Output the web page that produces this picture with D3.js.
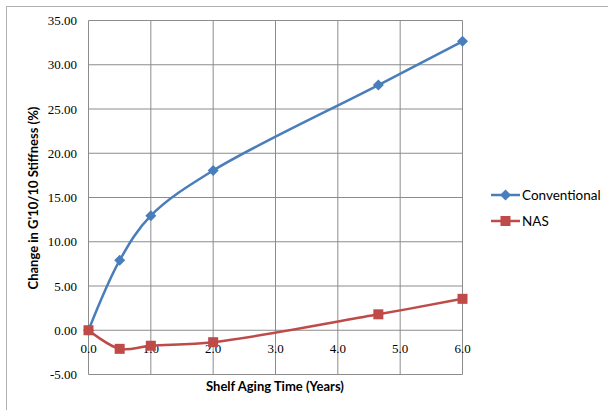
<!DOCTYPE html>
<html><head><meta charset="utf-8">
<script src="https://cdn.jsdelivr.net/npm/d3@7"></script>
<style>body{margin:0;background:#fff}svg{display:block}</style>
</head><body>
<script>
const years = [0, 0.5, 1.0, 2.0, 4.65, 6.0];
const conventional = [0, 7.9, 12.95, 18.05, 27.7, 32.65];
const nas = [0, -2.1, -1.75, -1.35, 1.8, 3.55];
const xTicks = [0, 1, 2, 3, 4, 5, 6];
const yTicks = [-5, 0, 5, 10, 15, 20, 25, 30, 35];
const seriesNames = ["Conventional", "NAS"];

const W = 608, H = 410;
const svg = d3.select("body").append("svg").attr("width", W).attr("height", H);

svg.append("rect").attr("x", 6.5).attr("y", 6.5).attr("width", 620).attr("height", 420)
  .attr("fill", "#fff").attr("stroke", "#b0b0b0").attr("stroke-width", 1);

const x = d3.scaleLinear().domain([0, 6]).range([88.5, 462.5]);
const y = d3.scaleLinear().domain([-5, 35]).range([374.5, 20.5]);

const diamond = "M0,-5.5L5.5,0L0,5.5L-5.5,0Z";

// gridlines
svg.append("g").selectAll("line.h").data(yTicks).join("line")
  .attr("x1", x(0)).attr("x2", x(6)).attr("y1", d => y(d)).attr("y2", d => y(d))
  .attr("stroke", "#8c8c8c").attr("stroke-width", 1);
svg.append("g").selectAll("line.v").data(xTicks).join("line")
  .attr("x1", d => x(d)).attr("x2", d => x(d)).attr("y1", y(35)).attr("y2", y(-5))
  .attr("stroke", "#8c8c8c").attr("stroke-width", 1);

// y tick labels
svg.append("g").selectAll("text").data(yTicks).join("text")
  .attr("x", 77).attr("y", d => y(d)).attr("dy", "0.35em")
  .attr("text-anchor", "end").attr("font-family", "Liberation Serif, serif")
  .attr("font-size", 13).attr("fill", "#000").text(d => d.toFixed(2));

// x tick labels (at zero line)
svg.append("g").selectAll("text").data(xTicks).join("text")
  .attr("x", d => x(d)).attr("y", y(0) + 23).attr("text-anchor", "middle")
  .attr("font-family", "Liberation Serif, serif").attr("font-size", 13)
  .attr("fill", "#000").text(d => d.toFixed(1));

// axis titles
svg.append("text").attr("x", 275).attr("y", 391).attr("text-anchor", "middle")
  .attr("font-family", "Lato, sans-serif").attr("font-weight", "bold").attr("font-size", 13)
  .text("Shelf Aging Time (Years)");
svg.append("text").attr("transform", "translate(38,198) rotate(-90)").attr("text-anchor", "middle")
  .attr("font-family", "Lato, sans-serif").attr("font-weight", "bold").attr("font-size", 13)
  .text("Change in G'10/10 Stiffness (%)");

const colors = ["#4A7EBB", "#BE4B48"];
const data = [conventional, nas];
const line = d3.line().x(d => x(d[0])).y(d => y(d[1])).curve(d3.curveCatmullRom.alpha(0.5));

data.forEach((vals, i) => {
  const pts = years.map((yr, j) => [yr, vals[j]]);
  svg.append("path").datum(pts).attr("d", line).attr("fill", "none")
    .attr("stroke", colors[i]).attr("stroke-width", 2.5);
  const g = svg.append("g");
  if (i === 0) {
    g.selectAll("path").data(pts).join("path")
      .attr("d", diamond)
      .attr("transform", d => `translate(${x(d[0])},${y(d[1])})`)
      .attr("fill", colors[i]);
  } else {
    g.selectAll("rect").data(pts).join("rect")
      .attr("x", d => x(d[0]) - 5).attr("y", d => y(d[1]) - 5)
      .attr("width", 10).attr("height", 10).attr("fill", colors[i]);
  }
});

// legend
const lg = svg.append("g");
seriesNames.forEach((name, i) => {
  const ly = 195 + i * 26;
  lg.append("line").attr("x1", 491).attr("x2", 520).attr("y1", ly).attr("y2", ly)
    .attr("stroke", colors[i]).attr("stroke-width", 2.5);
  if (i === 0) {
    lg.append("path").attr("d", diamond)
      .attr("transform", `translate(505.5,${ly})`).attr("fill", colors[i]);
  } else {
    lg.append("rect").attr("x", 500.5).attr("y", ly - 5).attr("width", 10).attr("height", 10)
      .attr("fill", colors[i]);
  }
  lg.append("text").attr("x", 522).attr("y", ly).attr("dy", "0.35em")
    .attr("font-family", "Lato, sans-serif").attr("font-size", 13.5).text(name);
});
</script>
</body></html>
